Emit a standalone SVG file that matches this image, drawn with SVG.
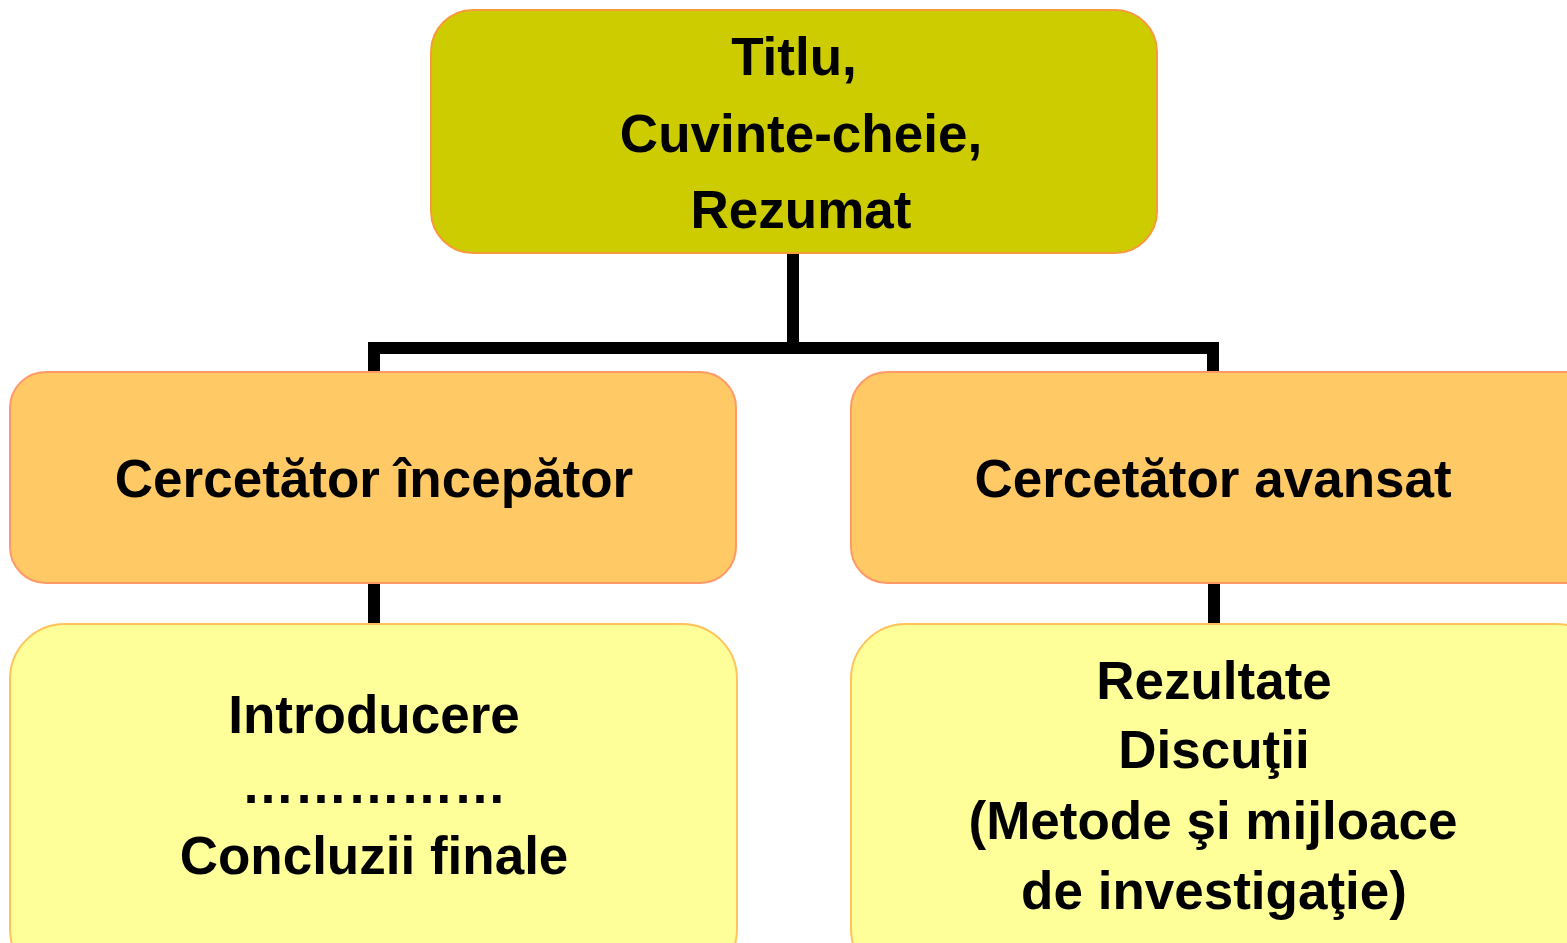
<svg xmlns="http://www.w3.org/2000/svg" width="1567" height="943" viewBox="0 0 1567 943">
<style>
text{font-family:"Liberation Sans",Arial,sans-serif;font-weight:bold;font-size:53px;fill:#000;text-anchor:middle}
.top{fill:#CCCC00;stroke:#F79A3A;stroke-width:2}
.mid{fill:#FFC966;stroke:#FF9966;stroke-width:2}
.bot{fill:#FFFF99;stroke:#FFC35A;stroke-width:2}
.conn{fill:none;stroke:#000;stroke-width:12}
</style>
<rect width="1567" height="943" fill="#fff"/>
<g id="connectors">
<path class="conn" d="M793 253V348M374 372V348H1213V372"/>
<path class="conn" d="M374 583V624M1214 583V624"/>
</g>
<g id="n-top">
<rect class="top" x="431" y="10" width="726" height="243" rx="42"/>
<text x="794" y="75">Titlu,</text>
<text x="801" y="152">Cuvinte-cheie,</text>
<text x="801" y="228">Rezumat</text>
</g>
<g id="n-incepator">
<rect class="mid" x="10" y="372" width="726" height="211" rx="36"/>
<text x="374" y="497">Cercetător începător</text>
</g>
<g id="n-avansat">
<rect class="mid" x="851" y="372" width="760" height="211" rx="36"/>
<text x="1213" y="497">Cercetător avansat</text>
</g>
<g id="n-intro">
<rect class="bot" x="10" y="624" width="727" height="360" rx="55"/>
<text x="374" y="733">Introducere</text>
<text x="374" y="803">……………</text>
<text x="374" y="874">Concluzii finale</text>
</g>
<g id="n-rezultate">
<rect class="bot" x="851" y="624" width="760" height="360" rx="55"/>
<text x="1214" y="699">Rezultate</text>
<text x="1214" y="768">Discuţii</text>
<text x="1213" y="839">(Metode şi mijloace</text>
<text x="1214" y="909">de investigaţie)</text>
</g>
</svg>
